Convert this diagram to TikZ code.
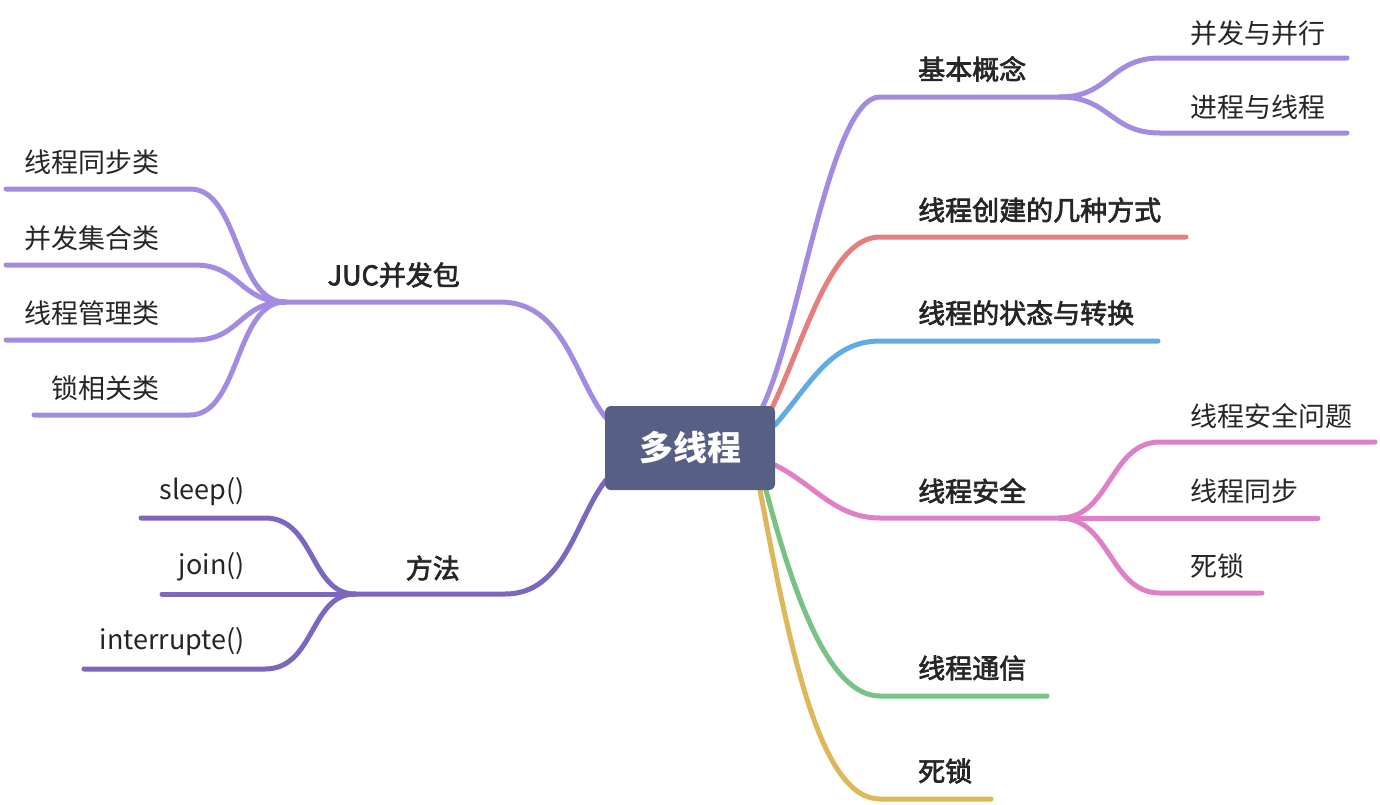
\documentclass[tikz,border=0pt]{standalone}
\usepackage{fontspec}
\setmainfont{Noto Sans CJK SC}
\newfontfamily\cjkm{Noto Sans CJK SC}[FakeBold=2.5]
\definecolor{cpurple}{HTML}{A28BE0}
\definecolor{cdpurple}{HTML}{7D66BD}
\definecolor{cred}{HTML}{E57F7F}
\definecolor{cblue}{HTML}{62ABE2}
\definecolor{cpink}{HTML}{DE80C8}
\definecolor{cgreen}{HTML}{77C284}
\definecolor{cyellow}{HTML}{DDB85A}
\definecolor{cnode}{HTML}{585F85}
\definecolor{ctext}{HTML}{262626}
\tikzset{
  br/.style={line width=5pt, line cap=round},
  mainlbl/.style={font=\fontsize{27}{30}\cjkm, text=ctext, inner sep=0pt},
  sublbl/.style={font=\fontsize{27}{30}\selectfont, text=ctext, inner sep=0pt},
}
\begin{document}
\begin{tikzpicture}[x=1pt,y=-1pt]
\useasboundingbox[fill=white] (0,0) rectangle (1380,804);

% ---------- right side connectors (drawn first) ----------
\coordinate (cA) at (762,408);
\coordinate (cB) at (771,410);
\coordinate (cC) at (775,425);
\coordinate (cD) at (775,465);
\coordinate (cE) at (766,490);
\coordinate (cF) at (760,490);

\coordinate (jA0) at (880,97);   \coordinate (jA) at (1060,97);
\coordinate (eA1s) at (1160,58); \coordinate (eA1) at (1347,58);
\coordinate (eA2s) at (1160,133);\coordinate (eA2) at (1347,133);
\coordinate (eB0) at (880,237);  \coordinate (eB) at (1186,237);
\coordinate (eC0) at (880,341);  \coordinate (eC) at (1158,341);
\coordinate (jD0) at (880,518);  \coordinate (jD) at (1060,518);
\coordinate (eD1s) at (1160,442);\coordinate (eD1) at (1375,442);
\coordinate (eD2) at (1318,518);
\coordinate (eD3s) at (1160,593);\coordinate (eD3) at (1262,593);
\coordinate (eE0) at (880,696);  \coordinate (eE) at (1047,696);
\coordinate (eF0) at (880,799);  \coordinate (eF) at (991,799);

\draw[br,cpurple] (cA) .. controls (800,330) and (830,97) .. (jA0) -- (jA);
\draw[br,cpurple] (jA) .. controls (1110,97) and (1110,58) .. (eA1s) -- (eA1);
\draw[br,cpurple] (jA) .. controls (1110,97) and (1110,133) .. (eA2s) -- (eA2);
\draw[br,cred] (cB) .. controls (805,340) and (830,237) .. (eB0) -- (eB);
\draw[br,cblue] (cC) .. controls (810,385) and (830,341) .. (eC0) -- (eC);
\draw[br,cpink] (cD) .. controls (815,485) and (835,518) .. (jD0) -- (jD);
\draw[br,cpink] (jD) .. controls (1110,518) and (1110,442) .. (eD1s) -- (eD1);
\draw[br,cpink] (jD) -- (eD2);
\draw[br,cpink] (jD) .. controls (1110,518) and (1110,593) .. (eD3s) -- (eD3);
\draw[br,cgreen] (cE) .. controls (795,600) and (830,696) .. (eE0) -- (eE);
\draw[br,cyellow] (cF) .. controls (790,650) and (820,799) .. (eF0) -- (eF);

% ---------- left side connectors ----------
\coordinate (cG) at (606,418);
\coordinate (cH) at (606,480);
\coordinate (jG0) at (500,302); \coordinate (jG) at (285,302);
\coordinate (eG1s) at (190,189); \coordinate (eG1) at (6,189);
\coordinate (eG2s) at (195,265); \coordinate (eG2) at (6,265);
\coordinate (eG3s) at (195,340); \coordinate (eG3) at (6,340);
\coordinate (eG4s) at (190,415); \coordinate (eG4) at (34,415);
\coordinate (jH0) at (505,594); \coordinate (jH) at (355,594);
\coordinate (eH1s) at (265,518); \coordinate (eH1) at (141,518);
\coordinate (eH2) at (162,594);
\coordinate (eH3s) at (265,669); \coordinate (eH3) at (84,669);

\draw[br,cpurple] (cG) .. controls (575,380) and (565,302) .. (jG0) -- (jG);
\draw[br,cpurple] (jG) .. controls (235,302) and (240,189) .. (eG1s) -- (eG1);
\draw[br,cpurple] (jG) .. controls (240,302) and (240,265) .. (eG2s) -- (eG2);
\draw[br,cpurple] (jG) .. controls (240,302) and (240,340) .. (eG3s) -- (eG3);
\draw[br,cpurple] (jG) .. controls (235,302) and (240,415) .. (eG4s) -- (eG4);
\draw[br,cdpurple] (cH) .. controls (575,520) and (565,594) .. (jH0) -- (jH);
\draw[br,cdpurple] (jH) .. controls (310,594) and (315,518) .. (eH1s) -- (eH1);
\draw[br,cdpurple] (jH) -- (eH2);
\draw[br,cdpurple] (jH) .. controls (310,594) and (315,669) .. (eH3s) -- (eH3);

% ---------- center ----------
\node[fill=cnode, rounded corners=6pt, minimum width=170pt, minimum height=84pt,
      text=white, font=\fontsize{34}{38}\selectfont\bfseries, inner sep=0pt]
      (root) at (690,448) {多线程};

% ---------- labels ----------
\node[mainlbl, anchor=west] (lA) at (918,69) {基本概念};
\node[sublbl, anchor=west] (lA1) at (1190,33) {并发与并行};
\node[sublbl, anchor=west] (lA2) at (1190,107) {进程与线程};
\node[mainlbl, anchor=west] (lB) at (918,210) {线程创建的几种方式};
\node[mainlbl, anchor=west] (lC) at (918,313) {线程的状态与转换};
\node[mainlbl, anchor=west] (lD) at (918,491) {线程安全};
\node[sublbl, anchor=west] (lD1) at (1190,416) {线程安全问题};
\node[sublbl, anchor=west] (lD2) at (1190,491) {线程同步};
\node[sublbl, anchor=west] (lD3) at (1190,566) {死锁};
\node[mainlbl, anchor=west] (lE) at (918,668) {线程通信};
\node[mainlbl, anchor=west] (lF) at (918,771) {死锁};

\node[mainlbl, anchor=east] (lG) at (460,275) {JUC并发包};
\node[sublbl, anchor=east] (lG1) at (160,162) {线程同步类};
\node[sublbl, anchor=east] (lG2) at (160,238) {并发集合类};
\node[sublbl, anchor=east] (lG3) at (160,313) {线程管理类};
\node[sublbl, anchor=east] (lG4) at (160,388) {锁相关类};
\node[mainlbl, anchor=east] (lH) at (460,568) {方法};
\node[sublbl, anchor=east] (lH1) at (245,492) {sleep()};
\node[sublbl, anchor=east] (lH2) at (245,567) {join()};
\node[sublbl, anchor=east] (lH3) at (245,642) {interrupte()};
\end{tikzpicture}
\end{document}
